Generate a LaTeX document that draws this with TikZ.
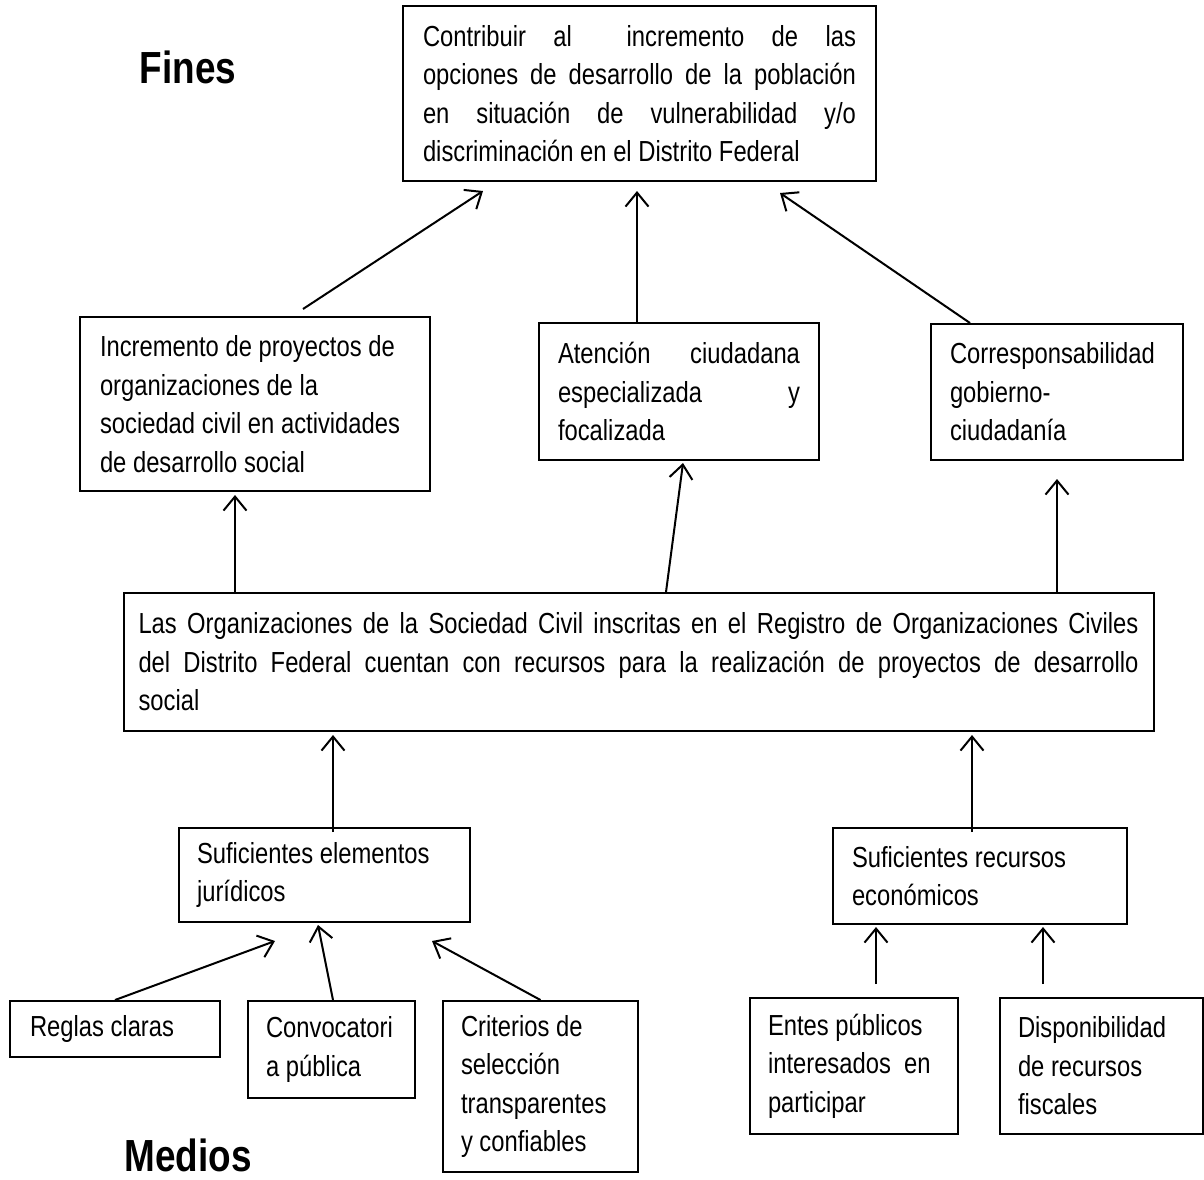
\documentclass[tikz,border=0pt]{standalone}
\usepackage{fontspec}
\setmainfont[FakeStretch=0.82]{Liberation Sans}
\usetikzlibrary{arrows.meta}
\newcommand\jl[1]{\makebox[\hsize][s]{#1}}
\newcommand\nsk{\spaceskip=0pt\relax\xspaceskip=0pt\relax}
\begin{document}
\begin{tikzpicture}[x=1pt,y=-1pt,
  bx/.style={draw, line width=2pt, rectangle, inner xsep=0pt, inner ysep=0pt, align=left,
    font=\fontsize{29}{38.5}\selectfont},
  ttl/.style={font=\fontsize{45}{50}\selectfont\bfseries, inner sep=0pt},
  arr/.style={line width=2pt, -{Straight Barb[length=14pt,width=23pt,line width=2pt]}}]
\useasboundingbox (0,0) rectangle (1204,1179);
\fill[white] (0,0) rectangle (1204,1179);

\node[ttl] (fines) at (188,67) {Fines};
\node[ttl] (medios) at (188,1155) {Medios};

\node[bx, minimum width=473pt, minimum height=175pt, text width=433pt] (top) at (639.5,93.5)
 {\nsk\jl{Contribuir al \ incremento de las}\\
  \jl{opciones de desarrollo de la población}\\
  \jl{en situación de vulnerabilidad y/o}\\
  discriminación en el Distrito Federal};

\node[bx, minimum width=350pt, minimum height=174pt, text width=310pt] (left) at (255,404)
 {\nsk Incremento de proyectos de\\organizaciones de la\\sociedad civil en actividades\\de desarrollo social};

\node[bx, minimum width=280pt, minimum height=137pt, text width=242pt] (mid) at (679,391.5)
 {\nsk\jl{Atención ciudadana}\\\jl{especializada y}\\focalizada};

\node[bx, minimum width=252pt, minimum height=136pt, text width=214pt] (right) at (1057,392)
 {\nsk Corresponsabilidad\\gobierno-\\ciudadanía};

\node[bx, minimum width=1030pt, minimum height=138pt, text width=1000pt] (long) at (638.5,662)
 {\nsk\jl{Las Organizaciones de la Sociedad Civil inscritas en el Registro de Organizaciones Civiles}\\
  \jl{del Distrito Federal cuentan con recursos para la realización de proyectos de desarrollo}\\
  social};

\node[bx, minimum width=291pt, minimum height=94pt, text width=255pt] (sufA) at (324.5,875)
 {\nsk Suficientes elementos\\jurídicos};
\node[bx, minimum width=294pt, minimum height=96pt, text width=256pt] (sufB) at (980,876)
 {\nsk Suficientes recursos\\económicos};

\node[bx, minimum width=210pt, minimum height=56pt, text width=170pt] (reglas) at (115,1029)
 {\nsk Reglas claras};
\node[bx, minimum width=167pt, minimum height=97pt, text width=131pt] (conv) at (331.5,1049.5)
 {\nsk Convocatori\\a pública};
\node[bx, minimum width=195pt, minimum height=171pt, text width=159pt] (crit) at (540.5,1086.5)
 {\nsk Criterios de\\selección\\transparentes\\y confiables};
\node[bx, minimum width=208pt, minimum height=136pt, text width=172pt] (entes) at (854,1066)
 {\nsk Entes públicos\\interesados \ en\\participar};
\node[bx, minimum width=203pt, minimum height=136pt, text width=167pt] (disp) at (1101.5,1066)
 {\nsk Disponibilidad\\de recursos\\fiscales};

% arrows
\draw[arr] ([xshift=48pt,yshift=7pt]left.north) -- ([xshift=-156.5pt,yshift=-9pt]top.south);
\draw[arr] ([xshift=-42pt]mid.north) -- ([xshift=-2.5pt,yshift=-9pt]top.south);
\draw[arr] ([xshift=-87pt]right.north) -- ([xshift=140.5pt,yshift=-11pt]top.south);

\draw[arr] ([xshift=-403.5pt]long.north) -- ([xshift=-20pt,yshift=-3pt]left.south);
\draw[arr] ([xshift=27.5pt]long.north) -- ([xshift=4pt,yshift=-2pt]mid.south);
\draw[arr] ([xshift=418.5pt]long.north) -- ([xshift=0pt,yshift=-18pt]right.south);

\draw[arr] ([xshift=8.5pt,yshift=-5pt]sufA.north) -- ([xshift=-305.5pt,yshift=-3pt]long.south);
\draw[arr] ([xshift=-8pt,yshift=-5pt]sufB.north) -- ([xshift=333.5pt,yshift=-3pt]long.south);

\draw[arr] (reglas.north) -- ([xshift=-49.5pt,yshift=-18pt]sufA.south);
\draw[arr] ([xshift=1.5pt]conv.north) -- ([xshift=-6.5pt,yshift=-2pt]sufA.south);
\draw[arr] (crit.north) -- ([xshift=107.5pt,yshift=-18pt]sufA.south);

\draw[arr] ([xshift=22pt,yshift=13pt]entes.north) -- ([xshift=-104pt,yshift=-2pt]sufB.south);
\draw[arr] ([xshift=-58.5pt,yshift=13pt]disp.north) -- ([xshift=63pt,yshift=-2pt]sufB.south);
\end{tikzpicture}
\end{document}
